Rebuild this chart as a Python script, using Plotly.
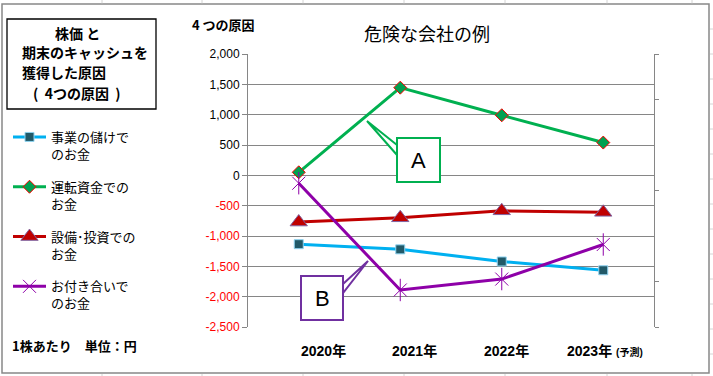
import plotly.graph_objects as go

# ---------------- data ----------------
categories = ["2020年", "2021年", "2022年", "2023年"]
tick_labels = ["2020年", "2021年", "2022年", "2023年 <span style='font-size:10px'>(予測)</span>"]
series_names = ["事業の儲けで<br>のお金", "運転資金での<br>お金", "設備･投資での<br>お金", "お付き合いで<br>のお金"]
business = [-1135, -1220, -1420, -1565]
working_capital = [50, 1445, 990, 540]
investment = [-770, -700, -585, -610]
association = [-130, -1890, -1710, -1140]
y_ticks = [2000, 1500, 1000, 500, 0, -500, -1000, -1500, -2000, -2500]

W, H = 713, 376
L, R, T, B = 248, 654, 54, 327


def px(x):
    return (x - L) / (R - L)


def py(y):
    return (B - y) / (B - T)


JP = "Noto Sans CJK JP"
NUM = "Liberation Sans, Noto Sans CJK JP"

fig = go.Figure()

fig.add_trace(go.Scatter(
    x=categories, y=business, name=series_names[0], mode="lines+markers",
    line=dict(color="#00B0F0", width=3),
    marker=dict(symbol="square", size=9, color="#215968", line=dict(color="#8FD3F0", width=1)),
    legendgroup="a"))
fig.add_trace(go.Scatter(
    x=categories, y=working_capital, name=series_names[1], mode="lines+markers",
    line=dict(color="#00B050", width=3),
    marker=dict(symbol="diamond", size=10, color="#00A050", line=dict(color="#FF0000", width=1)),
    legendgroup="b"))
fig.add_trace(go.Scatter(
    x=categories, y=investment, name=series_names[2], mode="lines+markers",
    line=dict(color="#C00000", width=3),
    marker=dict(symbol="triangle-up", size=15, color="#C00000", line=dict(color="#8064A2", width=1)),
    legendgroup="c"))
fig.add_trace(go.Scatter(
    x=categories, y=association, name=series_names[3], mode="lines+markers",
    line=dict(color="#8E00A8", width=3),
    marker=dict(symbol="x-thin-open", size=13, color="#8E00A8", line=dict(color="#8E00A8", width=1)),
    legendgroup="d"))
fig.add_trace(go.Scatter(
    x=categories, y=association, mode="markers", showlegend=False, hoverinfo="skip",
    marker=dict(symbol="line-ns-open", size=16, color="#8E00A8", line=dict(color="#8E00A8", width=1))))


def fmt(v):
    s = f"{v:,}"
    if v < 0:
        return f"<span style='color:#FF0000'>{s}</span>"
    return s


fig.update_yaxes(
    range=[-2500, 2000], tickvals=y_ticks, ticktext=[fmt(v) for v in y_ticks],
    showgrid=True, gridcolor="#868686", gridwidth=1, zeroline=False,
    showline=True, linecolor="#868686", linewidth=1,
    ticks="outside", ticklen=5, tickcolor="#868686",
    tickfont=dict(family=NUM, size=12, color="black"))
fig.update_xaxes(
    range=[-0.5, 3.5], showticklabels=False, showgrid=False,
    showline=False, ticks="")

# secondary right axis (tick marks only)
fig.update_layout(yaxis2=dict(
    overlaying="y", side="right", range=[-2500, 2000],
    tickvals=[2000, 1250, -250, -1750, -2500], showticklabels=False,
    ticks="outside", ticklen=4, tickcolor="#868686",
    showline=True, linecolor="#868686", linewidth=1, showgrid=False, zeroline=False))
fig.add_trace(go.Scatter(x=[None], y=[None], yaxis="y2", showlegend=False, hoverinfo="skip"))

shapes = []
annotations = []

# outer chart border
shapes.append(dict(type="rect", xref="paper", yref="paper",
                   x0=px(2), x1=px(709), y0=py(4), y1=py(373),
                   line=dict(color="#888888", width=1.5), layer="below"))
# spreadsheet cell lines outside the chart
for cx in [102, 202, 303, 404, 505, 607, 692]:
    shapes.append(dict(type="line", xref="paper", yref="paper", x0=px(cx), x1=px(cx),
                       y0=py(0), y1=py(3.3), line=dict(color="#D4D4D4", width=1)))
    shapes.append(dict(type="line", xref="paper", yref="paper", x0=px(cx), x1=px(cx),
                       y0=py(374), y1=py(376), line=dict(color="#D4D4D4", width=1)))
for ry in range(29, 376, 25):
    shapes.append(dict(type="line", xref="paper", yref="paper", x0=px(710), x1=px(713),
                       y0=py(ry), y1=py(ry), line=dict(color="#D4D4D4", width=1)))

# top-left text box
shapes.append(dict(type="rect", xref="paper", yref="paper",
                   x0=px(7), x1=px(156), y0=py(19), y1=py(109),
                   line=dict(color="black", width=1.3), fillcolor="white"))
box_lines = [("<b>株価 と</b>", 77, 33, "center"),
             ("<b>期末のキャッシュを</b>", 20, 52, "left"),
             ("<b>獲得した原因</b>", 20, 72, "left"),
             ("<b>(  4つの原因  )</b>", 77, 93, "center")]
for txt, x, y, al in box_lines:
    annotations.append(dict(text=txt, xref="paper", yref="paper", x=px(x), y=py(y),
                            xanchor=al, yanchor="middle", showarrow=False,
                            font=dict(family=JP, size=14, color="black")))

# callout A
shapes.append(dict(type="path", xref="paper", yref="paper",
                   path=f"M {px(397)},{py(145)} L {px(367)},{py(121)} L {px(397)},{py(155)} Z",
                   line=dict(color="#00B050", width=2), fillcolor="white", layer="above"))
shapes.append(dict(type="rect", xref="paper", yref="paper",
                   x0=px(397), x1=px(440), y0=py(138), y1=py(182),
                   line=dict(color="#00B050", width=2), fillcolor="white", layer="above"))
annotations.append(dict(text="A", xref="paper", yref="paper", x=px(418.5), y=py(160),
                        xanchor="center", yanchor="middle",
                        showarrow=False, font=dict(family="Liberation Sans", size=22, color="black")))
# callout B
shapes.append(dict(type="path", xref="paper", yref="paper",
                   path=f"M {px(343)},{py(284)} L {px(368)},{py(261)} L {px(343)},{py(293)} Z",
                   line=dict(color="#7030A0", width=2), fillcolor="white", layer="above"))
shapes.append(dict(type="rect", xref="paper", yref="paper",
                   x0=px(301), x1=px(343), y0=py(276), y1=py(320),
                   line=dict(color="#7030A0", width=2), fillcolor="white", layer="above"))
annotations.append(dict(text="B", xref="paper", yref="paper", x=px(322), y=py(298),
                        xanchor="center", yanchor="middle",
                        showarrow=False, font=dict(family="Liberation Sans", size=22, color="black")))

# titles and notes
annotations.append(dict(text="危険な会社の例", xref="paper", yref="paper", x=px(427), y=py(33),
                        xanchor="center", yanchor="middle",
                        showarrow=False, font=dict(family=JP, size=18, color="black")))
annotations.append(dict(text="<b>4 つの原因</b>", xref="paper", yref="paper", x=px(190), y=py(25),
                        xanchor="left", yanchor="middle",
                        showarrow=False, font=dict(family=JP, size=13, color="black")))
annotations.append(dict(text="<b>1株あたり　単位：円</b>", xref="paper", yref="paper", x=px(10), y=py(345),
                        xanchor="left", yanchor="middle",
                        showarrow=False, font=dict(family=JP, size=13, color="black")))

# x category labels
label_x = [323, 414, 506, 605]
for txt, x in zip(tick_labels, label_x):
    annotations.append(dict(text=f"<b>{txt}</b>", xref="paper", yref="paper", x=px(x), y=py(351),
                            xanchor="center", yanchor="middle",
                            showarrow=False, font=dict(family=NUM, size=14, color="black")))

fig.update_layout(
    width=W, height=H,
    margin=dict(l=L, r=W - R, t=T, b=H - B, pad=0, autoexpand=False),
    paper_bgcolor="white", plot_bgcolor="white",
    shapes=shapes, annotations=annotations,
    showlegend=True,
    legend=dict(xref="container", yref="container", x=8 / W, y=1 - 122 / H,
                xanchor="left", yanchor="top", valign="top",
                font=dict(family=JP, size=13, color="black"), itemwidth=33,
                tracegroupgap=13, bgcolor="rgba(0,0,0,0)", maxheight=320),
)

fig.write_html("out.html", config={"displayModeBar": False},
               post_script="document.body.style.margin='0';document.body.style.overflow='hidden';")
